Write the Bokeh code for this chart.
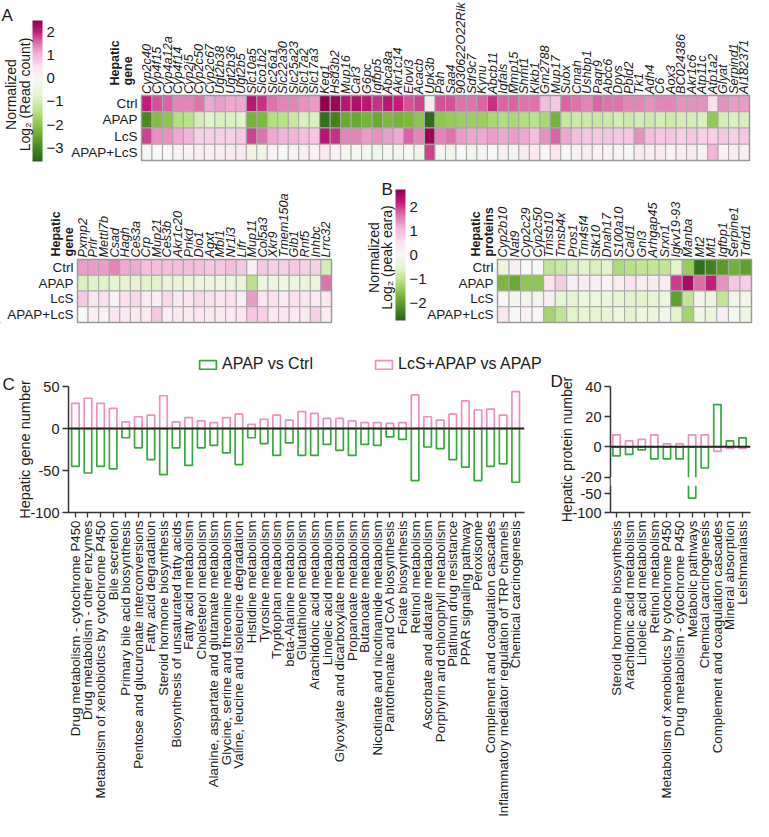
import math
import numpy as np
from bokeh.plotting import figure
from bokeh.models import (ColumnDataSource, LinearColorMapper, Range1d, FixedTicker, Span,
                          Legend, LegendItem, Title, CustomJSTransform, BoxAnnotation)
from bokeh.layouts import row, column
from bokeh.transform import transform
from bokeh.core.properties import value
from bokeh.embed import file_html
from bokeh.resources import INLINE

FONT = "Liberation Sans"
TXT = "#1a1a1a"
GREEN = "#33a93c"
PINK = "#f08dc2"

# ---------------------------------------------------------------- data
groups = ["Ctrl", "APAP", "LcS", "APAP+LcS"]

a1_genes = ["Cyp2c40", "Cyp4f15", "Cyp4a12a", "Cyp4f14", "Cyp2j5", "Cyp2c50", "Cyp2c67",
            "Ugt2b38", "Ugt2b36", "Ugt2b5", "Slc10a5", "Slco1b2", "Slc26a1", "Slc22a30",
            "Slc25a23", "Slc17a2", "Slc17a3", "Keg1", "Hsd3b2", "Mup16", "Car3", "G6pc",
            "Igfbp5", "Abca8a", "Akr1c14", "Elovl3", "Acacb", "Upk3b", "Pah", "Saa4",
            "9030622O22Rik", "Sdr9c7", "Kynu", "Abcb11", "Igfals", "Mmp15", "Shmt1", "Klkb1",
            "Gm2788", "Mup17", "Suox", "Cmah", "Ushbp1", "Paqr9", "Abcc6", "Dpys", "Pbld2",
            "Tk1", "Adh4", "C6", "Aox3", "BC024386", "Akr1c6", "Atp11c", "Atp1a2", "Glyat",
            "Serpind1", "AI182371"]
a1_ctrl = [2.0, 1.7, 1.6, 1.4, 1.4, 1.5, 1.1, 1.2, 1.1, 1.1,
           2.1, 1.9, 1.5, 1.4, 1.4, 1.3, 1.2,
           2.5, 2.4, 2.1, 2.2, 2.1, 1.9, 2.1, 2.0, 1.7, 1.8, 0.3,
           1.7, 1.7, 1.5, 1.5, 1.6, 1.9,
           1.6, 1.6, 1.5, 1.5, 0.9, 0.8,
           1.6, 1.5, 1.4, 1.6, 1.5, 1.5, 1.4, 1.4, 1.3, 1.4, 1.4, 1.3, 1.3, 1.3, 0.5, 1.3, 1.2, 1.2]
a1_apap = [-3.0, -2.1, -2.0, -1.5, -1.4, -1.0, -0.8, -0.9, -0.9, -0.8,
           -2.3, -2.2, -1.5, -1.4, -1.2, -0.9, -0.9,
           -3.4, -3.1, -2.5, -2.5, -2.3, -2.5, -2.2, -2.3, -2.2, -2.0, -3.5,
           -2.0, -1.9, -1.8, -1.8, -1.8, -1.6,
           -1.5, -1.6, -1.5, -1.4, -1.6, -2.3,
           -1.2, -1.1, -1.1, -1.2, -1.1, -1.0, -1.1, -1.0, -1.1, -1.0, -1.1, -1.0, -1.0, -0.9, -1.9, -1.0, -0.9, -0.9]
a1_lcs = [1.8, 1.3, 1.3, 1.1, 1.0, 0.7, 0.7, 0.7, 0.7, 0.8,
          1.8, 1.5, 1.1, 1.0, 1.0, 0.9, 0.8,
          2.1, 1.9, 1.4, 1.4, 1.2, 1.3, 1.2, 1.1, 1.6, 1.4, 2.4,
          1.4, 1.5, 1.2, 1.1, 1.1, 1.2,
          1.1, 1.2, 1.1, 0.9, 1.3, 1.6,
          1.1, 0.9, 0.8, 0.8, 0.8, 0.8, 0.8, 1.3, 0.9, 0.8, 0.8, 0.7, 0.8, 0.7, 0.7, 0.8, 0.7, 0.8]
a1_apap_lcs = [-0.1, 0.0, 0.0, 0.05, 0.1, 0.2, 0.2, 0.2, 0.3, 0.3,
               -0.4, -0.3, 0.1, 0.0, 0.1, 0.2, 0.1,
               0.3, 0.1, -0.2, -0.1, -0.2, -0.3, -0.1, -0.2, 0.0, -0.3, 1.8,
               -0.2, -0.3, 0.0, -0.2, -0.1, 0.0,
               0.2, 0.1, 0.3, 0.3, 0.0, 0.4,
               0.0, 0.1, 0.2, 0.1, 0.1, 0.1, 0.0, 0.3, 0.2, 0.3, 0.1, 0.2, 0.3, 0.1, 1.0, 0.1, 0.2, 0.2]

a2_genes = ["Pxmp2", "Prlr", "Mettl7b", "Csad", "Hagh", "Ces3a", "Crp", "Mup21", "Ces3b",
            "Akr1c20", "Pnkd", "Dio1", "Agxt", "Mbl1", "Nr1i3", "Lifr", "Mup11", "Col5a3",
            "Xkr9", "Tmem150a", "Glb1", "Rnf5", "Inhbc", "Lrrc32"]
a2_ctrl = [1.2, 1.2, 1.2, 1.4, 1.1, 1.1, 0.9, 0.9, 0.9, 0.9, 0.9, 0.9, 0.8, 0.8, 0.9, 0.8,
           0.2, 0.8, 0.7, 0.7, 0.8, 0.7, 0.7, -1.0]
a2_apap = [-0.9, -0.8, -0.8, -0.7, -0.7, -0.7, -0.8, -0.8, -0.6, -0.6, -0.6, -0.5, -0.5, -0.5,
           -0.5, -0.6, -1.4, -0.5, -0.5, -0.4, -0.5, -0.6, -0.6, 1.5]
a2_lcs = [0.8, 0.4, 0.5, 0.1, 0.5, 0.6, 0.3, 0.2, 0.6, 0.3, 0.4, 0.6, 0.5, 0.4, 0.5, 0.2,
          1.2, 0.4, 0.5, 0.3, 0.5, 0.4, 0.3, 0.3]
a2_apap_lcs = [0.0, 0.2, 0.1, 0.4, 0.3, 0.3, 0.3, 0.8, 0.2, 0.3, 0.3, 0.4, 0.3, 0.3, 0.3, 0.4,
               0.8, 0.7, 0.3, 0.4, 0.3, 0.3, 0.7, 0.2]

b_proteins = ["Cyp2b10", "Nat9", "Cyp2c29", "Cyp2c50", "Tmsb10", "Tmsb4x", "Pros1", "Tm4sf4",
              "Stk10", "Dnah17", "S100a10", "Cald1", "Gnl3", "Arhgap45", "Srxn1", "Igkv19-93",
              "Manba", "Mt2", "Mt1", "Igfbp1", "Serpine1", "Tdrd1"]
b_ctrl = [-0.4, 0.2, 0.0, 0.0, -1.0, -0.9, -0.7, -0.6, -0.7, -0.6, -1.2, -1.1, -1.0, -1.0,
          -1.0, -0.6, -1.4, -2.6, -2.4, -2.1, -1.8, -2.0]
b_apap = [-1.7, -1.9, -1.5, -1.5, 0.5, 0.8, 0.2, 0.3, 0.2, 0.15, 0.3, 0.5, 0.3, 0.3, 0.3,
          2.0, 2.5, 1.7, 2.2, 1.4, 0.9, 0.8]
b_lcs = [0.0, -0.1, -0.2, -0.2, 0.2, -0.5, -0.5, -0.4, -0.4, -0.4, -0.5, -0.6, -0.6, -0.5,
         -0.4, -2.0, -1.0, -0.2, -0.4, -1.0, -0.3, -0.2]
b_apap_lcs = [0.4, 0.0, 0.15, 0.05, -1.3, -1.0, -0.6, -0.5, -0.5, -0.5, -0.4, -0.6, -0.4, -0.4,
              -0.2, -0.6, -1.3, -0.2, -0.4, 0.2, -0.1, -0.3]

cb_a_ticks = [2, 1, 0, -1, -2, -3]
cb_b_ticks = [2, 1, 0, -1, -2]

c_pathways = ["Drug metabolism - cytochrome P450", "Drug metabolism - other enzymes",
              "Metabolism of xenobiotics by cytochrome P450", "Bile secretion",
              "Primary bile acid biosynthesis", "Pentose and glucuronate interconversions",
              "Fatty acid degradation", "Steroid hormone biosynthesis",
              "Biosynthesis of unsaturated fatty acids", "Fatty acid metabolism",
              "Cholesterol metabolism", "Alanine, aspartate and glutamate metabolism",
              "Glycine, serine and threonine metabolism", "Valine, leucine and isoleucine degradation",
              "Histidine metabolism", "Tyrosine metabolism", "Tryptophan metabolism",
              "beta-Alanine metabolism", "Glutathione metabolism", "Arachidonic acid metabolism",
              "Linoleic acid metabolism", "Glyoxylate and dicarboxylate metabolism",
              "Propanoate metabolism", "Butanoate metabolism",
              "Nicotinate and nicotinamide metabolism", "Pantothenate and CoA biosynthesis",
              "Folate biosynthesis", "Retinol metabolism", "Ascorbate and aldarate metabolism",
              "Porphyrin and chlorophyll metabolism", "Platinum drug resistance",
              "PPAR signaling pathway", "Peroxisome", "Complement and coagulation cascades",
              "Inflammatory mediator regulation of TRP channels", "Chemical carcinogenesis"]
c_apap_vs_ctrl = [-45, -53, -45, -48, -11, -23, -37, -55, -23, -44, -23, -20, -29, -43, -11,
                  -18, -32, -17, -32, -32, -19, -26, -32, -19, -20, -10, -13, -62, -22, -24,
                  -37, -46, -62, -45, -42, -64]
c_lcs_apap_vs_apap = [30, 36, 30, 24, 8, 14, 16, 39, 8, 13, 9, 7, 13, 17, 5, 11, 16, 10, 20,
                      18, 12, 12, 9, 7, 7, 6, 7, 40, 14, 10, 17, 33, 22, 23, 16, 44]
c_yticks = [-100, -50, 0, 50]

d_pathways = ["Steroid hormone biosynthesis", "Arachidonic acid metabolism",
              "Linoleic acid metabolism", "Retinol metabolism",
              "Metabolism of xenobiotics by cytochrome P450", "Drug metabolism - cytochrome P450",
              "Metabolic pathways", "Chemical carcinogenesis",
              "Complement and coagulation cascades", "Mineral absorption", "Leishmaniasis"]
d_apap_vs_ctrl = [-6, -5, -2, -8, -8, -8, -62, -14, 28, 4, 6]
d_lcs_apap_vs_apap = [8, 4, 5, 8, 2, 2, 8, 8, -3, -1, -1]
d_yticks = [40, 20, 0, -20, -50, -100]

legend_labels = ["APAP vs Ctrl", "LcS+APAP vs APAP"]

# ---------------------------------------------------------------- colours
GREEN_SIDE = ["#f7f7f7", "#e6f5d0", "#b8e186", "#7fbc41", "#4d9221", "#276419"]
PINK_SIDE = ["#f7f7f7", "#fde0ef", "#f1b6da", "#de77ae", "#c51b7d", "#8e0152"]


def _rgb(h):
    return tuple(int(h[i:i + 2], 16) for i in (1, 3, 5))


def _interp(stops, t):
    t = min(max(t, 0.0), 1.0)
    pos = t * (len(stops) - 1)
    i = min(int(pos), len(stops) - 2)
    f = pos - i
    a, b = _rgb(stops[i]), _rgb(stops[i + 1])
    return "#%02x%02x%02x" % tuple(int(round(a[k] + (b[k] - a[k]) * f)) for k in range(3))


def make_palette(low, high, n=256):
    out = []
    for k in range(n):
        v = low + (high - low) * (k + 0.5) / n
        out.append(_interp(GREEN_SIDE, v / low) if v < 0 else _interp(PINK_SIDE, v / high))
    return out


A_LOW, A_HIGH = -3.6, 2.5
B_LOW, B_HIGH = -2.75, 2.75
mapper_a = LinearColorMapper(palette=make_palette(A_LOW, A_HIGH), low=A_LOW, high=A_HIGH)
mapper_b = LinearColorMapper(palette=make_palette(B_LOW, B_HIGH), low=B_LOW, high=B_HIGH)


# ---------------------------------------------------------------- layout helpers (pixel -> units)
def xrange_px(px0, ppu, total):
    return Range1d(-px0 / ppu, (total - px0) / ppu)


def yrange_px(py0, v0, ppu, total):
    return Range1d(v0 - (total - py0) / ppu, v0 + py0 / ppu)


def xv(px, px0, ppu):
    return (px - px0) / ppu


def yv(py, py0, v0, ppu):
    return v0 - (py - py0) / ppu


def canvas(width, height, x_range, y_range):
    p = figure(width=width, height=height, x_range=x_range, y_range=y_range,
               x_axis_location=None, y_axis_location=None, min_border=0,
               toolbar_location=None, output_backend="svg")
    p.outline_line_color = None
    p.background_fill_color = "white"
    p.border_fill_color = "white"
    p.xgrid.visible = False
    p.ygrid.visible = False
    for r in p.center:
        r.visible = False
    return p


def texts(p, xs, ys, ts, size, angle=0.0, align="left", baseline="middle", style="normal",
          **kw):
    src = ColumnDataSource(dict(x=list(xs), y=list(ys), t=list(ts)))
    p.text(x="x", y="y", text="t", source=src, angle=angle, text_align=align,
           text_baseline=baseline, text_font=value(FONT), text_font_size=size,
           text_font_style=style, text_color=TXT, **kw)


def draw_heatmap(p, names, rows_vals, mapper, gene_y, row_x, corner, corner_x, corner_y,
                 xname=None):
    kw = {} if xname is None else {"x_range_name": xname}
    n = len(names)
    xs, ys, vs = [], [], []
    for gi, vals in enumerate(rows_vals):
        for j, v in enumerate(vals):
            xs.append(j + 0.5)
            ys.append(len(groups) - 0.5 - gi)
            vs.append(v)
    src = ColumnDataSource(dict(x=xs, y=ys, v=vs))
    p.rect(x="x", y="y", width=1, height=1, source=src, fill_color=transform("v", mapper),
           line_color="#a8a8a8", line_width=1, **kw)
    p.rect(x=n / 2, y=len(groups) / 2, width=n, height=len(groups), fill_color=None,
           line_color="#9a9a9a", line_width=1.5, **kw)
    texts(p, [j + 0.5 for j in range(n)], [gene_y] * n, names, "12.7px", angle=math.pi / 2,
          style="italic", **kw)
    texts(p, [row_x] * len(groups), [len(groups) - 0.5 - gi for gi in range(len(groups))],
          groups, "13.5px", align="right", **kw)
    texts(p, corner_x, [corner_y] * len(corner), corner, "12.5px", angle=math.pi / 2,
          style="bold", **kw)


def draw_colorbar(p, mapper, low, high, ticks, name, tick_x):
    grad = np.linspace(low, high, 256).reshape(256, 1)
    p.image(image=[grad], x=0, y=low, dw=1, dh=high - low, color_mapper=mapper,
            x_range_name=name, y_range_name=name)
    labels = [("\u2212%d" % -t) if t < 0 else "%d" % t for t in ticks]
    texts(p, [tick_x] * len(ticks), ticks, labels, "15px", x_range_name=name, y_range_name=name)


# ---------------------------------------------------------------- row 1 : panel A (top)
W, H1, H2, H3 = 753, 172, 201, 446
A1_X0, A1_CW = 141.0, 608.0 / len(a1_genes)
A1_TOP, A1_RH = 95.0, 16.25
CBA_X0, CBA_PPU = 32.0, 10.0
CBA_TOP, CBA_PPV = 20.0, 141.0 / (A_HIGH - A_LOW)

f1 = canvas(W, H1, xrange_px(A1_X0, A1_CW, W), yrange_px(A1_TOP, 4, A1_RH, H1))
f1.extra_x_ranges = {"cb": xrange_px(CBA_X0, CBA_PPU, W)}
f1.extra_y_ranges = {"cb": yrange_px(CBA_TOP, A_HIGH, CBA_PPV, H1)}

draw_heatmap(f1, a1_genes, [a1_ctrl, a1_apap, a1_lcs, a1_apap_lcs], mapper_a,
             gene_y=yv(93.5, A1_TOP, 4, A1_RH), row_x=xv(137, A1_X0, A1_CW),
             corner=["Hepatic", "gene"],
             corner_x=[xv(114, A1_X0, A1_CW), xv(127, A1_X0, A1_CW)],
             corner_y=yv(85, A1_TOP, 4, A1_RH))
draw_colorbar(f1, mapper_a, A_LOW, A_HIGH, cb_a_ticks, "cb", xv(46, CBA_X0, CBA_PPU))
texts(f1, [xv(10.5, CBA_X0, CBA_PPU), xv(24, CBA_X0, CBA_PPU)],
      [yv(94, CBA_TOP, A_HIGH, CBA_PPV)] * 2, ["Normalized", "Log\u2082 (Read count)"],
      "14px", angle=math.pi / 2, align="center", x_range_name="cb", y_range_name="cb")
texts(f1, [xv(1, CBA_X0, CBA_PPU)], [yv(15, CBA_TOP, A_HIGH, CBA_PPV)], ["A"], "17px",
      x_range_name="cb", y_range_name="cb")

# ---------------------------------------------------------------- row 2 : panel A (bottom) + B + legend
A2_X0, A2_CW = 77.0, 254.0 / len(a2_genes)
B_X0, B_CW = 497.0, 254.0 / len(b_proteins)
R2_TOP, R2_RH = 87.0, 15.75
CBB_X0, CBB_PPU = 395.0, 10.0
CBB_TOP, CBB_PPV = 17.0, 131.0 / (B_HIGH - B_LOW)

f2 = canvas(W, H2, xrange_px(A2_X0, A2_CW, W), yrange_px(R2_TOP, 4, R2_RH, H2))
f2.extra_x_ranges = {"b": xrange_px(B_X0, B_CW, W), "cb": xrange_px(CBB_X0, CBB_PPU, W)}
f2.extra_y_ranges = {"cb": yrange_px(CBB_TOP, B_HIGH, CBB_PPV, H2)}

draw_heatmap(f2, a2_genes, [a2_ctrl, a2_apap, a2_lcs, a2_apap_lcs], mapper_a,
             gene_y=yv(85, R2_TOP, 4, R2_RH), row_x=xv(73, A2_X0, A2_CW),
             corner=["Hepatic", "gene"],
             corner_x=[xv(55, A2_X0, A2_CW), xv(68, A2_X0, A2_CW)],
             corner_y=yv(84, R2_TOP, 4, R2_RH))
draw_heatmap(f2, b_proteins, [b_ctrl, b_apap, b_lcs, b_apap_lcs], mapper_b,
             gene_y=yv(85, R2_TOP, 4, R2_RH), row_x=xv(493, B_X0, B_CW),
             corner=["Hepatic", "proteins"],
             corner_x=[xv(475, B_X0, B_CW), xv(488, B_X0, B_CW)],
             corner_y=yv(84, R2_TOP, 4, R2_RH), xname="b")
draw_colorbar(f2, mapper_b, B_LOW, B_HIGH, cb_b_ticks, "cb", xv(409, CBB_X0, CBB_PPU))
texts(f2, [xv(373, CBB_X0, CBB_PPU), xv(386, CBB_X0, CBB_PPU)],
      [yv(85, CBB_TOP, B_HIGH, CBB_PPV)] * 2, ["Normalized", "Log\u2082 (peak eara)"],
      "14px", angle=math.pi / 2, align="center", x_range_name="cb", y_range_name="cb")
texts(f2, [xv(381, CBB_X0, CBB_PPU)], [yv(17, CBB_TOP, B_HIGH, CBB_PPV)], ["B"], "17px",
      x_range_name="cb", y_range_name="cb")

# legend for panels C and D (sits between the heat maps and the bar charts);
# its key renderers hold a single point placed far outside the visible area
key_src = ColumnDataSource(dict(x=[-1.0e6], top=[0.0]))
leg_green = f2.vbar(x="x", top="top", width=1, source=key_src, fill_color="white",
                    line_color=GREEN, line_width=1.7)
leg_pink = f2.vbar(x="x", top="top", width=1, source=key_src, fill_color="white",
                   line_color=PINK, line_width=1.7)
f2.add_layout(Legend(items=[LegendItem(label=legend_labels[0], renderers=[leg_green]),
                            LegendItem(label=legend_labels[1], renderers=[leg_pink])],
                     location=(197, 0), orientation="horizontal", spacing=60,
                     glyph_width=21, glyph_height=11, label_standoff=4, padding=0, margin=0,
                     label_height=14, label_text_line_height=1.0,
                     label_text_font=FONT, label_text_font_size="16px",
                     label_text_color=TXT, border_line_color=None,
                     background_fill_alpha=0))


# ---------------------------------------------------------------- bar chart helpers
def bar_fig(width, x_range, y_range, left, right):
    p = figure(width=width, height=H3, x_range=x_range, y_range=y_range,
               min_border_left=left, min_border_right=right, min_border_top=13,
               min_border_bottom=307, toolbar_location=None, output_backend="svg")
    p.grid.visible = False
    p.outline_line_color = None
    p.background_fill_color = "white"
    p.border_fill_color = "white"
    return p


def style_axes(p, names):
    for ax in list(p.xaxis) + list(p.yaxis):
        ax.axis_line_color = "#333333"
        ax.axis_line_width = 1.5
        ax.major_tick_line_color = "#333333"
        ax.major_tick_line_width = 1.3
        ax.major_tick_out = 6
        ax.major_tick_in = 0
        ax.minor_tick_line_color = None
        ax.major_label_text_font = FONT
        ax.major_label_text_color = TXT
        ax.major_label_standoff = 3
    p.yaxis.major_label_text_font_size = "14.5px"
    p.xaxis.ticker = FixedTicker(ticks=list(range(len(names))))
    p.xaxis.major_label_overrides = {i: n for i, n in enumerate(names)}
    p.xaxis.major_label_orientation = math.pi / 2
    p.xaxis.major_label_text_font_size = "13.3px"
    p.xaxis.major_tick_out = 5
    for ax in p.yaxis:
        ax.axis_label_text_font = FONT
        ax.axis_label_text_font_size = "15px"
        ax.axis_label_text_font_style = "normal"
        ax.axis_label_text_color = TXT
        ax.axis_label_standoff = -6


def panel_title(p, text, offset, standoff):
    p.add_layout(Title(text=text, align="left", offset=offset, standoff=standoff,
                       text_font=FONT, text_font_size="17px", text_font_style="normal",
                       text_color=TXT), "above")


# ---------------------------------------------------------------- panel C
src_c = ColumnDataSource(dict(x=list(range(len(c_pathways))), apap=c_apap_vs_ctrl,
                              lcs=c_lcs_apap_vs_apap))
pc = bar_fig(544, Range1d(-0.55, 35.7), Range1d(c_yticks[0], c_yticks[-1]), 68, 20)
pc.vbar(x="x", top="apap", bottom=0, width=0.6, source=src_c, fill_color="white",
        line_color=GREEN, line_width=1.7)
pc.vbar(x="x", top="lcs", bottom=0, width=0.6, source=src_c, fill_color="white",
        line_color=PINK, line_width=1.7)
pc.add_layout(Span(location=0, dimension="width", line_color="#222222", line_width=2))
style_axes(pc, c_pathways)
pc.yaxis.ticker = FixedTicker(ticks=c_yticks)
pc.yaxis.major_label_overrides = {t: "%d" % t for t in c_yticks}
pc.yaxis.axis_label = "Hepatic gene number"
pc.yaxis.axis_label_text_font_size = "14.5px"
panel_title(pc, "C", -66, -14)

# ---------------------------------------------------------------- panel D (broken y axis)
BRK_TOP, BRK_BOT, LOW_SCALE = -20.0, -26.0, 0.25
broken = CustomJSTransform(
    func="return x >= %f ? x : %f + (x + 30) * %f;" % (BRK_TOP, BRK_BOT, LOW_SCALE),
    v_func="""
        const out = new Array(xs.length);
        for (let i = 0; i < xs.length; i++) {
            const v = xs[i];
            out[i] = v >= %f ? v : %f + (v + 30) * %f;
        }
        return out;
    """ % (BRK_TOP, BRK_BOT, LOW_SCALE))


def disp(v):
    return v if v >= BRK_TOP else BRK_BOT + (v + 30) * LOW_SCALE


src_d = ColumnDataSource(dict(x=list(range(len(d_pathways))), apap=d_apap_vs_ctrl,
                              lcs=d_lcs_apap_vs_apap))
pd_ = bar_fig(209, Range1d(-0.48, 10.63), Range1d(disp(d_yticks[-1]), d_yticks[0]), 66, 3)
pd_.vbar(x="x", top=transform("apap", broken), bottom=0, width=0.58, source=src_d,
         fill_color="white", line_color=GREEN, line_width=1.7)
pd_.vbar(x="x", top=transform("lcs", broken), bottom=0, width=0.58, source=src_d,
         fill_color="white", line_color=PINK, line_width=1.7)
pd_.add_layout(BoxAnnotation(bottom=BRK_BOT + 0.2, top=BRK_TOP - 0.2, fill_color="white",
                             fill_alpha=1.0, line_color=None))
pd_.add_layout(Span(location=0, dimension="width", line_color="#222222", line_width=2))
style_axes(pd_, d_pathways)
pd_.yaxis.ticker = FixedTicker(ticks=[disp(t) for t in d_yticks])
pd_.yaxis.major_label_overrides = {disp(t): "%d" % t for t in d_yticks}
pd_.yaxis.axis_label = "Hepatic protein number"
pd_.yaxis.axis_label_text_font_size = "14px"
panel_title(pd_, "D", -60, -8)

# ---------------------------------------------------------------- layout
layout = column(f1, f2, row(pc, pd_))

open("out.html", "w").write(file_html(layout, INLINE))
